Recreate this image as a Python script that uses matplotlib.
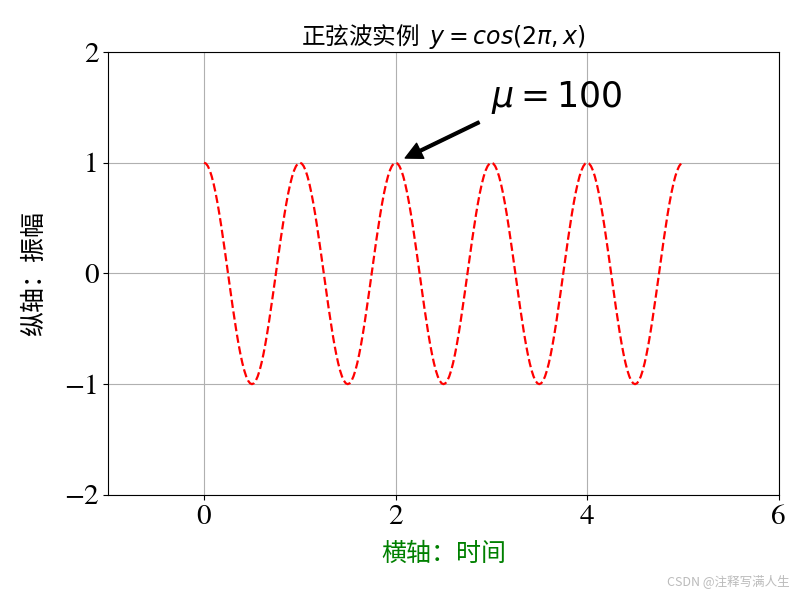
import numpy as np
import matplotlib
matplotlib.use("Agg")
import matplotlib.pyplot as plt

plt.rcParams['font.family'] = ['Noto Sans CJK SC', 'DejaVu Sans']
plt.rcParams['axes.unicode_minus'] = True

# cosine curve sampled as in the original chart
x = np.arange(0, 5, 0.02)
y = np.cos(2 * np.pi * x)

xticks = [0, 2, 4, 6]
yticks = [-2, -1, 0, 1, 2]

fig = plt.figure(figsize=(8.02, 5.97), dpi=100)
ax = fig.add_axes([0.135, 0.171, 0.836, 0.742])
ax.plot(x, y, 'r--', linewidth=1.6)
ax.axis([-1, 6, -2, 2])
ax.set_xticks(xticks)
ax.set_yticks(yticks)
for lab in ax.get_xticklabels() + ax.get_yticklabels():
    lab.set_fontfamily('STIXGeneral')
    lab.set_fontsize(21)
ax.grid(True)
ax.set_title(r'正弦波实例  $y=cos(2\pi,x)$', fontsize=17, pad=6)
ax.set_xlabel('横轴：时间', fontsize=18, color='green', labelpad=8)
ax.set_ylabel('纵轴：振幅', fontsize=18, labelpad=12)
ax.annotate(r'$\mu=100$', xy=(2, 1), xytext=(3, 1.5), fontsize=25,
            arrowprops=dict(facecolor='black', shrink=0.1, width=2))
fig.text(0.985, 0.015, 'CSDN @注释写满人生', fontsize=9, color='#bbbbbb', ha='right', va='bottom')
fig.savefig('out.png', dpi=100)
